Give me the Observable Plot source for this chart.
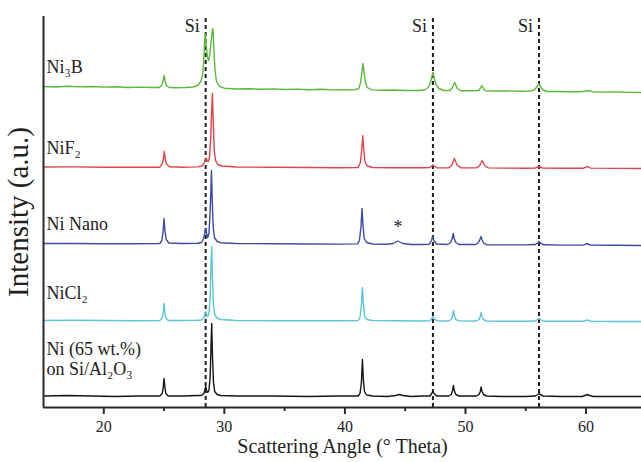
<!DOCTYPE html>
<html>
<head>
<meta charset="utf-8">
<script src="https://cdn.jsdelivr.net/npm/d3@7"></script>
<script src="https://cdn.jsdelivr.net/npm/@observablehq/plot@0.6"></script>
<style>
  html, body { margin: 0; padding: 0; background: #fff; }
  #chart svg { display: block; }
</style>
</head>
<body>
<div id="chart"></div>
<script>
// ---- data (2θ in degrees, stacked intensity in arbitrary units) ----
const sampleNames = ["Ni₃B", "NiF₂", "Ni Nano", "NiCl₂", "Ni (65 wt.%)\non Si/Al₂O₃"];
const labelLevel = [341, 260, 184, 115, 49];
const siPeaks = [28.45, 47.3, 56.1];
const siLabel = "Si";
const siLabelLevel = 381;
const starAngle = 44.4;
const starLevel = 180;
const xTicks = [20, 30, 40, 50, 60];
const xMinorTicks = [25, 35, 45, 55];

const ni3B = [
  [15,321],[16,320.5],[17,321.3],[18,320.6],[19,321],[20,320.4],[21,320.8],[22,320],[23,320.4],[24,320],[24.6,320],
  [24.82,322.5],[24.93,327],[25.0,332],[25.08,327],[25.2,322],[25.45,320],
  [26,319.8],[26.8,320],[27.4,320.5],[27.8,322],[28.05,326],[28.2,333],[28.3,348],[28.37,368],[28.42,374],[28.5,362],[28.6,350],[28.7,347],[28.8,353],[28.9,366],[28.98,375],[29.05,379],[29.12,362],[29.22,338],[29.35,326],[29.6,321],[30,319.3],
  [31,318.5],[32,318.8],[33,318.3],[34,318.6],[35,318],[36,318.4],[37,317.8],[38,318.2],[39,317.6],[40,317.8],[40.8,317.6],
  [41.15,319],[41.3,325],[41.42,336],[41.5,344],[41.58,336],[41.7,325],[41.85,320],[42.2,317.6],
  [43,317.2],[44,317.5],[45,317],[46,317],[46.6,317.5],[46.9,320],[47.1,325],[47.22,331],[47.3,335],[47.4,330],[47.55,323],[47.8,319],[48.2,317],
  [48.7,317],[48.9,319.5],[49.02,323],[49.1,325],[49.18,323],[49.32,319],[49.6,316.8],
  [50.5,316.8],[51.1,317],[51.25,319.5],[51.35,322],[51.45,319.5],[51.65,316.8],
  [52.5,316.5],[53.5,316.6],[54.5,316.2],[55.3,316.4],[55.7,317.5],[55.95,321],[56.08,324],[56.2,321],[56.45,317.5],[56.8,316],
  [57.5,316],[58.5,315.7],[59.5,315.8],[59.9,316.3],[60.15,317],[60.5,315.8],[61.5,315.4],[62.5,315.5],[63.5,315.1],[64.6,315]
];

const niF2 = [
  [15,240.5],[17.5,240.6],[20,240.3],[22.5,240.2],[24.65,240.3],
  [24.85,244],[24.94,248],[25.02,256],[25.1,248],[25.2,243.5],[25.45,240.8],
  [26.5,240.3],[27.8,240.6],[28.15,241.5],[28.3,244],[28.42,247],[28.5,249],[28.58,247],[28.67,246],[28.77,250],[28.87,270],[28.94,295],[29.01,314],[29.08,285],[29.16,258],[29.27,247],[29.45,243],[29.8,241.5],
  [31,240.5],[34,240.2],[37,240],[39.5,239.8],[41.1,240],
  [41.28,245],[41.4,258],[41.48,272],[41.56,258],[41.66,246],[41.85,241.5],[42.3,240],
  [44,239.8],[46.5,239.7],[47.05,240],[47.2,241.5],[47.3,242.5],[47.4,241.5],[47.6,239.8],
  [48.6,239.6],[48.85,242],[48.98,246],[49.08,249],[49.18,246],[49.33,242],[49.6,239.8],
  [50.9,239.6],[51.15,241.5],[51.28,244.5],[51.38,247],[51.48,244.5],[51.62,241.5],[51.9,239.6],
  [53,239.4],[55,239.3],[55.8,239.5],[56.1,241],[56.4,239.5],
  [58,239.3],[59.8,239.3],[60.1,240.8],[60.4,239.4],[62.5,239.1],[64.6,239]
];

const niNano = [
  [15,164],[17.5,164],[20,163.8],[22.5,163.8],[24.65,164],
  [24.82,167],[24.92,176],[25.0,189],[25.08,176],[25.18,168],[25.4,164.5],
  [26.5,164],[27.8,164.3],[28.1,165],[28.28,169],[28.37,174],[28.45,179],[28.53,174],[28.62,170],[28.72,174],[28.8,190],[28.87,212],[28.93,237],[29.0,205],[29.08,180],[29.18,170],[29.4,166],[29.7,164.8],
  [31,164],[34,163.8],[37,163.5],[39.5,163.4],[41.05,163.6],
  [41.2,167],[41.33,180],[41.42,199],[41.5,182],[41.6,169],[41.8,165],[42.3,163.5],
  [43.5,163.2],[44.0,164],[44.4,166.5],[44.8,164],[45.5,163],[46.5,163],
  [47.0,163.3],[47.18,167],[47.28,171],[47.38,167],[47.6,163.5],
  [48.5,163],[48.78,165],[48.9,169],[48.98,174],[49.06,169],[49.2,165],[49.45,163],
  [50.85,163],[51.08,165],[51.2,168],[51.28,171],[51.36,168],[51.5,164.5],[51.75,162.8],
  [53,162.6],[55,162.6],[55.8,163],[56.0,164.5],[56.1,166],[56.2,164.5],[56.5,162.7],
  [58,162.4],[59.8,162.4],[60.05,164],[60.35,162.5],[62.5,162.2],[64.6,162]
];

const niCl2 = [
  [15,87],[17.5,87.3],[20,87],[22.5,86.8],[24.65,87],
  [24.85,89.5],[24.93,95],[25.0,104],[25.07,95],[25.15,89.5],[25.35,87],
  [26.5,87],[27.8,87.3],[28.1,87.5],[28.3,90],[28.38,93],[28.45,96],[28.53,93],[28.62,91],[28.72,94],[28.82,110],[28.88,135],[28.95,161],[29.02,128],[29.1,102],[29.2,93],[29.4,89.5],[29.7,88],
  [31,87],[34,86.8],[37,86.8],[39.5,86.7],[41.1,87],
  [41.25,90],[41.37,103],[41.45,120],[41.53,104],[41.62,92],[41.8,88],[42.3,87],
  [44,86.7],[46.5,86.5],[47.05,86.7],[47.2,89],[47.3,91],[47.4,89],[47.6,86.8],
  [48.6,86.5],[48.82,88],[48.93,92],[49.0,97],[49.07,92],[49.2,88],[49.45,86.6],
  [50.9,86.5],[51.13,88],[51.23,91],[51.3,95],[51.37,91],[51.5,88],[51.75,86.5],
  [53,86.3],[55,86.3],[55.8,86.5],[56.0,88],[56.1,89],[56.2,88],[56.45,86.3],
  [58,86.2],[59.8,86.2],[60.1,87.5],[60.4,86.3],[62.5,86],[64.6,86]
];

const niSupported = [
  [15,11.5],[17,12],[19,11.5],[21,11],[23,11.5],[24.65,11.5],
  [24.85,14],[24.93,20],[25.0,29],[25.07,20],[25.15,14],[25.35,11.5],
  [26.5,11.5],[27.8,12],
  [28.1,12],[28.3,14],[28.38,17],[28.45,21],[28.53,17],[28.62,15],[28.72,17],[28.82,30],[28.88,55],[28.95,84],[29.02,50],[29.1,25],[29.2,16],[29.4,13],[29.7,12],
  [31,11.5],[34,11.5],[37,11],[39.5,11.5],[41.1,11.5],
  [41.25,14],[41.37,25],[41.45,48],[41.53,28],[41.62,16],[41.8,12.5],[42.3,11.5],
  [43.5,11],[44.2,12],[44.5,13],[44.8,12],[45.5,11],[46.5,11.5],
  [47.05,11.5],[47.2,14],[47.3,16],[47.4,14],[47.6,11.5],
  [48.6,11.5],[48.82,13],[48.93,17],[49.0,22],[49.07,17],[49.2,13],[49.45,11.5],
  [50.9,11.5],[51.13,13],[51.23,16],[51.3,20.5],[51.37,16],[51.5,13],[51.75,11.5],
  [53,11],[55,11],[55.8,11.5],[56.0,13],[56.1,14],[56.2,13],[56.45,11.5],
  [58,11],[59.7,11],[60.0,12.5],[60.1,13],[60.3,12],[60.6,11],[62.5,11],[64.6,11]
];

// ---- build table ----
const allSeries = [ni3B, niF2, niNano, niCl2, niSupported];
const table = allSeries.flatMap((pts, i) =>
  pts.map(([angle, intensity]) => ({angle, intensity, sample: sampleNames[i]}))
);
const labels = sampleNames.map((name, i) => ({name, level: labelLevel[i]}));

const serif = "'Liberation Serif', 'Times New Roman', serif";
const axisColor = "#2a2a2a";

const chart = Plot.plot({
  width: 641,
  height: 462,
  marginLeft: 43,
  marginRight: 0,
  marginTop: 16,
  marginBottom: 55,
  style: {fontFamily: serif, fontSize: "16px", background: "#fff", color: "#222"},
  x: {domain: [15, 64.6]},
  y: {domain: [0, 391], axis: null},
  color: {domain: sampleNames, range: ["#5bb83a", "#e0444c", "#3c4aa6", "#5cc5d6", "#151515"]},
  marks: [
    Plot.ruleX(siPeaks, {x: d => d, y1: 0, y2: 391, stroke: "#1e1e1e", strokeWidth: 2, strokeDasharray: "4,3"}),
    Plot.line(table, {x: "angle", y: "intensity", z: "sample", stroke: "sample", strokeWidth: 1.4, curve: "linear"}),
    Plot.ruleX([15], {y1: 0, y2: 391, stroke: axisColor, strokeWidth: 2}),
    Plot.ruleY([0], {stroke: axisColor, strokeWidth: 2}),
    Plot.axisX({ticks: xTicks, tickSize: 7, tickPadding: 6, strokeWidth: 2, stroke: axisColor, fontSize: 16, label: null}),
    Plot.axisX({ticks: xMinorTicks, tickSize: 4, strokeWidth: 2, stroke: axisColor, tickFormat: () => "", label: null}),
    Plot.text(["Scattering Angle (° Theta)"], {frameAnchor: "bottom", dy: 45, fontSize: 20, fill: "#222"}),
    Plot.text(["Intensity (a.u.)"], {frameAnchor: "left", textAnchor: "middle", dx: -25, rotate: -90, fontSize: 29, fill: "#222"}),
    Plot.text(siPeaks, {x: d => d, y: siLabelLevel, text: () => siLabel, textAnchor: "end", dx: -6, fontSize: 18, fill: "#222"}),
    Plot.text([starAngle], {x: d => d, y: starLevel, text: () => "*", fontSize: 18, fill: "#222"}),
    Plot.text(labels, {x: 15, y: "level", text: "name", textAnchor: "start", dx: 3, fontSize: 18, lineHeight: 1.1, fill: "#222"})
  ]
});
document.getElementById("chart").appendChild(chart);
</script>
</body>
</html>
